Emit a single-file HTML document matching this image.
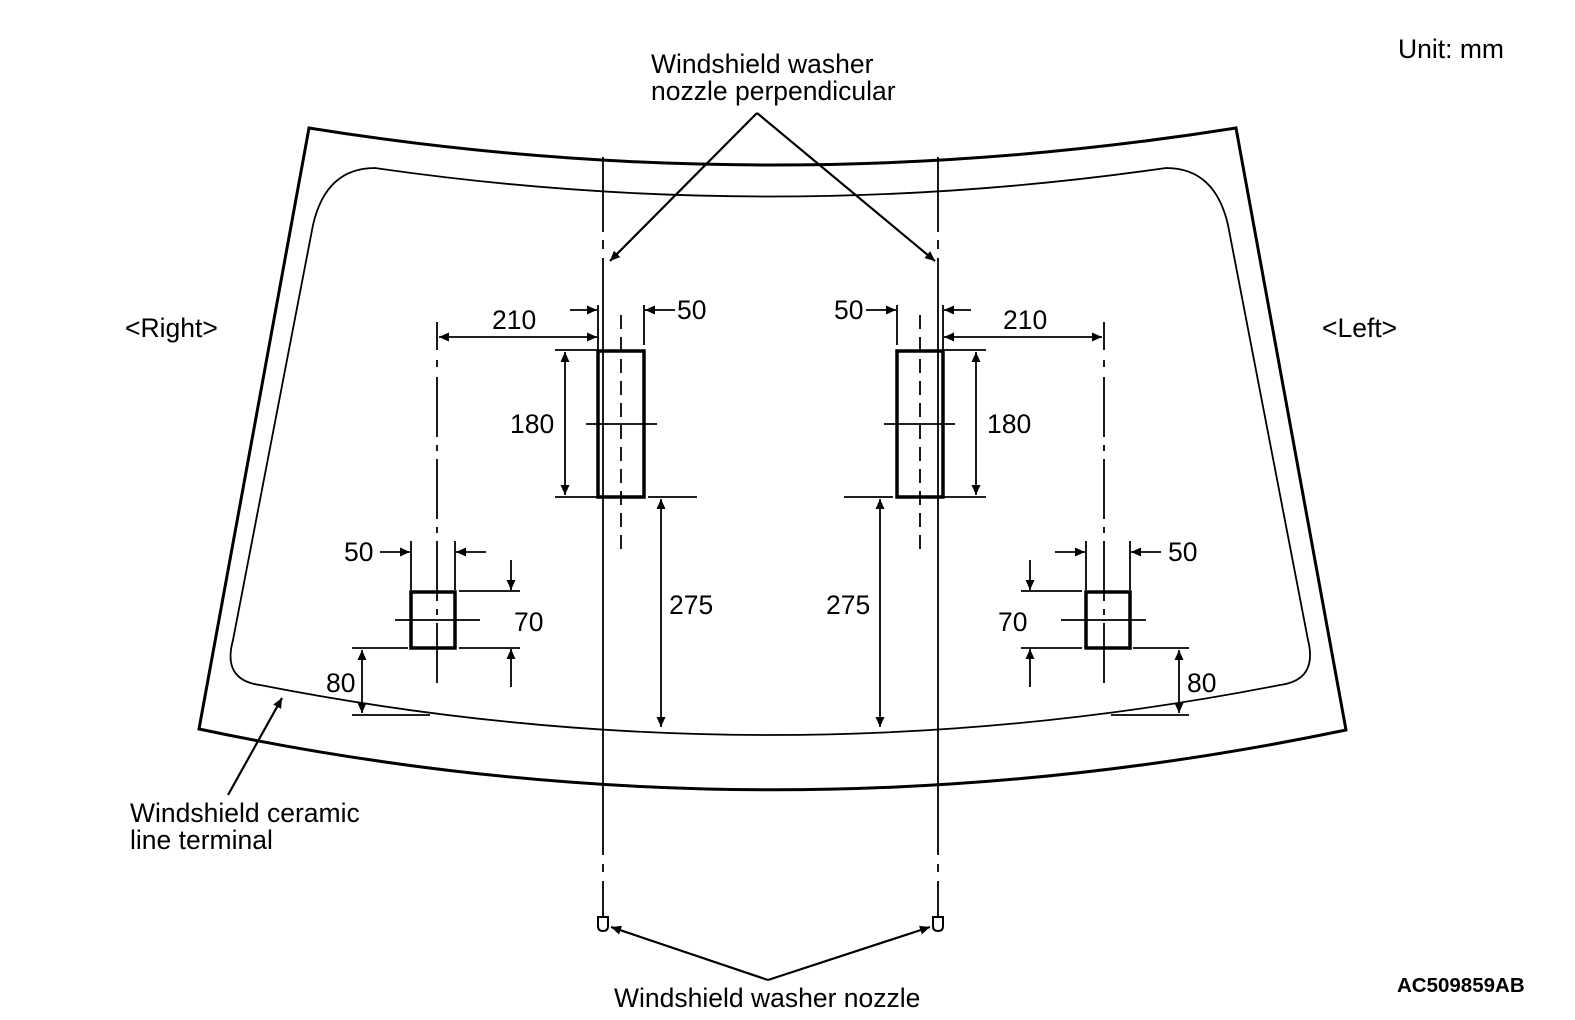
<!DOCTYPE html>
<html><head><meta charset="utf-8"><style>
html,body{margin:0;padding:0;background:#fff}
svg{display:block}
text{font-family:"Liberation Sans",Arial,sans-serif;font-size:26.5px;fill:#000}
</style></head><body>
<svg width="1575" height="1020" viewBox="0 0 1575 1020" xmlns="http://www.w3.org/2000/svg">
<defs>
<marker id="a" viewBox="0 0 10 10" refX="10" refY="5" markerWidth="18" markerHeight="10" markerUnits="userSpaceOnUse" orient="auto-start-reverse"><path d="M0,0.5 L10,5 L0,9.5 z" fill="#000"/></marker>
</defs>
<g fill="none" stroke="#000">
<path d="M309,128 Q770,202 1236,128 L1346,730 Q770,850 199,729 Z" stroke-width="3"/>
<path d="M375,168 Q770,225 1166,168 Q1215,168 1228,225 L1308,640 Q1318,680 1280,685 Q770,785 260,685 Q222,680 233,640 L313,225 Q326,168 375,168 Z" stroke-width="1.8"/>
<g stroke-width="1.8">
<path d="M603,157 V232 M603,240 V249 M603,258 V855 M603,864 V872 M603,881 V916"/>
<path d="M938,157 V232 M938,240 V249 M938,258 V855 M938,864 V872 M938,881 V916"/>
</g>
<path d="M598,917 h10 v9 q0,5 -5,5 q-5,0 -5,-5 z" stroke-width="2"/>
<path d="M933,917 h10 v9 q0,5 -5,5 q-5,0 -5,-5 z" stroke-width="2"/>
<g id="L">
<rect x="598" y="351" width="46" height="146" stroke-width="3.5"/>
<g stroke-width="1.8">
<path d="M621,315 V555" stroke-dasharray="14,8"/>
<path d="M586,424 H657"/>
<path d="M555,350 H597 M555,497 H597 M648,497 H697"/>
<path d="M565,352 V495" marker-start="url(#a)" marker-end="url(#a)"/>
<path d="M644,305 V345 M598,305 V350"/>
<path d="M570,310 H597" marker-end="url(#a)"/>
<path d="M675,310 H645" marker-end="url(#a)"/>
<path d="M437,322 V350 M437,360 V367 M437,377 V690" stroke-dasharray="60,8,6,8"/>
<path d="M439,337 H597" marker-start="url(#a)" marker-end="url(#a)"/>
<path d="M661,499 V727" marker-start="url(#a)" marker-end="url(#a)"/>
</g>
<rect x="411" y="592" width="44" height="56" stroke-width="3.5"/>
<g stroke-width="1.8">
<path d="M395,620 H480"/>
<path d="M411,541 V590 M455,541 V590"/>
<path d="M380,552 H410" marker-end="url(#a)"/>
<path d="M486,552 H456" marker-end="url(#a)"/>
<path d="M459,591 H520 M459,648 H520"/>
<path d="M511,560 V590" marker-end="url(#a)"/>
<path d="M511,687 V649" marker-end="url(#a)"/>
<path d="M352,648 H408 M352,715 H430"/>
<path d="M362,650 V713" marker-start="url(#a)" marker-end="url(#a)"/>
</g>
</g>
<use href="#L" transform="translate(1541,0) scale(-1,1)"/>
<g stroke-width="2.2">
<path d="M757,113 L610,261" marker-end="url(#a)"/>
<path d="M757,113 L935,261" marker-end="url(#a)"/>
<path d="M768,980 L611,927" marker-end="url(#a)"/>
<path d="M768,980 L930,927" marker-end="url(#a)"/>
<path d="M228,795 L282,698" marker-end="url(#a)"/>
</g>
</g>
<text x="651" y="73">Windshield washer</text>
<text x="651" y="100">nozzle perpendicular</text>
<text x="1398" y="58">Unit: mm</text>
<text x="125" y="337">&lt;Right&gt;</text>
<text x="1322" y="337">&lt;Left&gt;</text>
<text x="492" y="329">210</text>
<text x="1003" y="329">210</text>
<text x="677" y="319">50</text>
<text x="834" y="319">50</text>
<text x="510" y="433">180</text>
<text x="987" y="433">180</text>
<text x="669" y="614">275</text>
<text x="826" y="614">275</text>
<text x="344" y="561">50</text>
<text x="1168" y="561">50</text>
<text x="514" y="631">70</text>
<text x="998" y="631">70</text>
<text x="326" y="692">80</text>
<text x="1187" y="692">80</text>
<text x="130" y="822">Windshield ceramic</text>
<text x="130" y="849">line terminal</text>
<text x="614" y="1007">Windshield washer nozzle</text>
<text x="1397" y="992" style="font-size:20.5px;font-weight:bold">AC509859AB</text>
</svg>
</body></html>
